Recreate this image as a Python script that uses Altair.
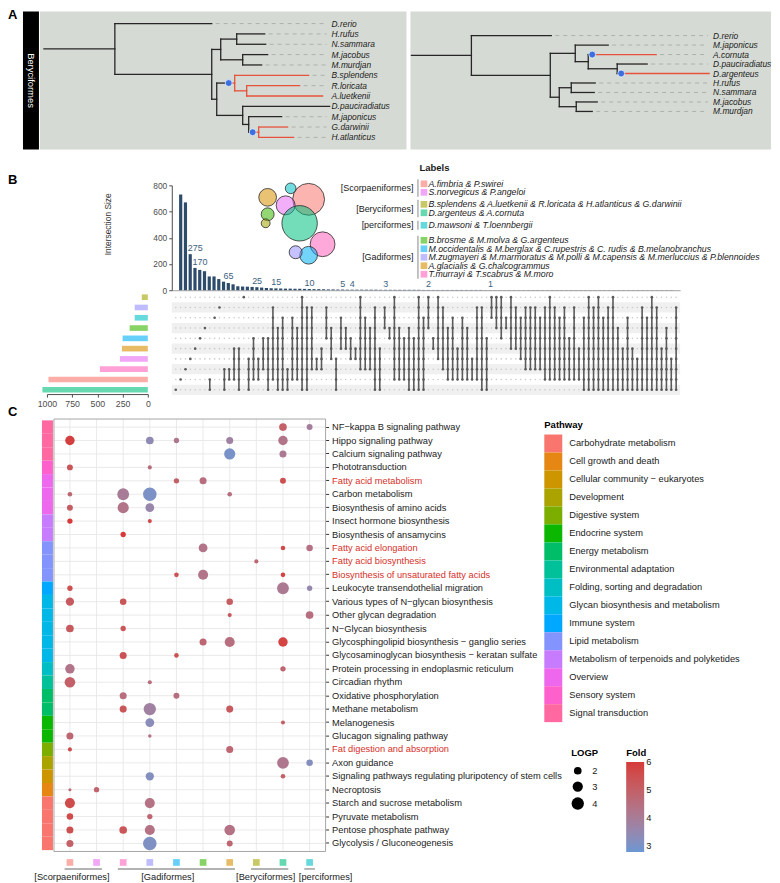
import altair as alt
import pandas as pd

FONT = "Liberation Sans"
INK = "#1A1A1A"
AXIS_GREY = "#4D4D4D"
TREE_BLACK = "#262626"
TREE_RED = "#E5533D"
NODE_BLUE = "#3D6FE0"
PANEL_GREY = "#D6DAD4"
NAVY = "#2D4B6B"
LABEL_RED = "#D7302A"

# ======================= DATA =======================
# ---- Panel A: two trees (node depth in branch-length units, tips listed top -> bottom)
LEFT_TIPS = ["D.rerio", "H.rufus", "N.sammara", "M.jacobus", "M.murdjan", "B.splendens",
             "R.loricata", "A.luetkenii", "D.pauciradiatus", "M.japonicus", "G.darwinii", "H.atlanticus"]
LEFT_NODES = [("root", None, 4), ("n0", "root", 75), ("D.rerio", "n0", 172), ("n1", "n0", 172),
              ("n2", "n1", 181), ("n4", "n2", 197), ("H.rufus", "n4", 225), ("N.sammara", "n4", 226),
              ("n5", "n2", 203), ("M.jacobus", "n5", 228), ("M.murdjan", "n5", 222),
              ("n3", "n1", 177), ("n6", "n3", 195), ("B.splendens", "n6", 269), ("n8", "n6", 207),
              ("R.loricata", "n8", 260), ("A.luetkenii", "n8", 283),
              ("n7", "n3", 203), ("D.pauciradiatus", "n7", 290), ("n9", "n7", 209),
              ("M.japonicus", "n9", 242), ("n10", "n9", 219), ("G.darwinii", "n10", 248),
              ("H.atlanticus", "n10", 254)]
LEFT_RED_CLADES = ["n6", "n10"]
LEFT_EVENTS = {"n6": 189, "n10": 213}

RIGHT_TIPS = ["D.rerio", "M.japonicus", "A.cornuta", "D.pauciradiatus", "D.argenteus",
              "H.rufus", "N.sammara", "M.jacobus", "M.murdjan"]
RIGHT_NODES = [("root", None, 1), ("n0", "root", 61), ("D.rerio", "n0", 141), ("n1", "n0", 140),
               ("n2", "n1", 165), ("M.japonicus", "n2", 198), ("n4", "n2", 178), ("A.cornuta", "n4", 246),
               ("n5", "n4", 207), ("D.pauciradiatus", "n5", 237), ("D.argenteus", "n5", 299),
               ("n3", "n1", 149), ("n6", "n3", 161), ("H.rufus", "n6", 185), ("N.sammara", "n6", 184),
               ("n7", "n3", 166), ("M.jacobus", "n7", 187), ("M.murdjan", "n7", 182)]
RIGHT_RED_CLADES = ["A.cornuta", "D.argenteus"]
RIGHT_EVENTS = {"A.cornuta": 182, "D.argenteus": 211}

# ---- Panel B: sets
SETS = ["A.fimbria & P.swirei", "S.norvegicus & P.angeloi",
        "B.splendens & A.luetkenii & R.loricata & H.atlanticus & G.darwinii", "D.argenteus & A.cornuta",
        "D.mawsoni & T.loennbergii",
        "B.brosme & M.molva & G.argenteus",
        "M.occidentalis & M.berglax & C.rupestris & C. rudis & B.melanobranchus",
        "M.zugmayeri & M.marmoratus & M.polli & M.capensis & M.merluccius & P.blennoides",
        "A.glacialis & G.chalcogrammus", "T.murrayi & T.scabrus & M.moro"]
SET_GROUP = ["[Scorpaeniformes]"] * 2 + ["[Beryciformes]"] * 2 + ["[perciformes]"] + ["[Gadiformes]"] * 5
SET_COLOR = ["#FBADA7", "#F1A6F8", "#C8C966", "#66D9B1", "#66D9DC",
             "#88D366", "#66D0FA", "#BFBCFF", "#E8BC66", "#FFA1D7"]
SET_HUE = ["#F8766D", "#E76BF3", "#A3A500", "#00BF7D", "#00BFC4",
           "#39B600", "#00B0F6", "#9590FF", "#D89000", "#FF62BC"]

# UpSet rows (top -> bottom, index into SETS) and set sizes
MATRIX_SETS = [2, 7, 4, 5, 6, 8, 1, 9, 0, 3]
SET_SIZE = [60, 130, 130, 180, 250, 257, 277, 475, 985, 1045]

# intersection sizes, in plotted order
INTERSECTION_SIZE = ([730, 670, 275, 170, 155, 145, 105, 105, 85, 65, 55, 45, 30, 28, 27, 25, 23, 20, 17, 15,
                      14, 13, 12, 12, 11, 11, 10, 9, 8, 8, 7, 6, 6, 5, 5, 4, 4, 4, 4, 4, 4, 4]
                     + [3] * 9 + [2] * 13 + [1] * 40)
LABELLED_BARS = [3, 4, 10, 16, 20, 27, 34, 36, 43, 52, 65]
# membership span (first row, last row) of every intersection column
MATRIX = [(9, 9), (8, 8), (7, 7), (6, 6), (5, 5), (4, 4), (3, 3), (8, 9), (2, 2), (1, 1),
          (7, 9), (7, 8), (5, 8), (5, 9), (0, 0), (6, 9), (4, 8), (6, 8), (4, 7), (4, 9),
          (1, 8), (3, 9), (2, 9), (7, 9), (2, 8), (3, 8), (0, 9), (1, 9), (1, 7), (6, 7),
          (5, 7), (1, 4), (3, 6), (6, 9), (2, 5), (3, 5), (4, 6), (5, 6), (0, 7), (2, 7),
          (3, 7), (1, 9), (5, 9), (1, 3), (3, 4), (0, 8), (3, 8), (4, 8), (3, 9), (4, 9),
          (0, 9), (2, 9), (0, 3), (4, 5), (0, 6), (1, 7), (3, 8), (2, 8), (5, 8), (2, 8),
          (3, 8), (6, 8), (1, 8), (1, 9), (4, 9), (0, 2), (0, 3), (0, 4), (2, 3), (0, 5),
          (1, 5), (2, 6), (1, 7), (1, 7), (1, 7), (2, 7), (1, 8), (0, 8), (1, 8), (2, 8),
          (1, 8), (4, 8), (1, 8), (5, 8), (2, 9), (0, 9), (1, 9), (0, 9), (2, 9), (1, 9),
          (0, 9), (3, 9), (5, 9), (2, 9), (5, 9), (6, 9), (1, 9), (2, 9), (0, 9), (1, 9),
          (5, 9), (3, 9), (6, 9), (1, 9)]

# Euler diagram: set index, centre x, centre y, radius (diagram units)
VENN = [(0, 54, 23, 18), (1, 31, 29, 10.7), (4, 36, 12, 6), (8, 13, 21, 10), (5, 13, 38, 7.3),
        (2, 11, 47, 5), (3, 45, 47, 20), (9, 68, 68, 14), (6, 54, 79, 10), (7, 41, 76, 7.3)]

# ---- Panel C: KEGG enrichment
PATHWAYS = ["NF\u2212kappa B signaling pathway", "Hippo signaling pathway", "Calcium signaling pathway",
            "Phototransduction", "Fatty acid metabolism", "Carbon metabolism",
            "Biosynthesis of amino acids", "Insect hormone biosynthesis", "Biosynthesis of ansamycins",
            "Fatty acid elongation", "Fatty acid biosynthesis", "Biosynthesis of unsaturated fatty acids",
            "Leukocyte transendothelial migration", "Various types of N\u2212glycan biosynthesis",
            "Other glycan degradation", "N\u2212Glycan biosynthesis",
            "Glycosphingolipid biosynthesis \u2212 ganglio series",
            "Glycosaminoglycan biosynthesis \u2212 keratan sulfate",
            "Protein processing in endoplasmic reticulum", "Circadian rhythm", "Oxidative phosphorylation",
            "Methane metabolism", "Melanogenesis", "Glucagon signaling pathway", "Fat digestion and absorption",
            "Axon guidance", "Signaling pathways regulating pluripotency of stem cells", "Necroptosis",
            "Starch and sucrose metabolism", "Pyruvate metabolism", "Pentose phosphate pathway",
            "Glycolysis / Gluconeogenesis"]
HIGHLIGHTED = ["Fatty acid metabolism", "Fatty acid elongation", "Fatty acid biosynthesis",
               "Biosynthesis of unsaturated fatty acids", "Fat digestion and absorption"]
CATEGORIES = ["Carbohydrate metabolism", "Cell growth and death", "Cellular community \u2212 eukaryotes",
              "Development", "Digestive system", "Endocrine system", "Energy metabolism",
              "Environmental adaptation", "Folding, sorting and degradation",
              "Glycan biosynthesis and metabolism", "Immune system", "Lipid metabolism",
              "Metabolism of terpenoids and polyketides", "Overview", "Sensory system", "Signal transduction"]
CATEGORY_COLORS = ["#F8766D", "#E68613", "#CD9600", "#ABA300", "#7CAE00", "#0CB702", "#00BE67", "#00C19A",
                   "#00BFC4", "#00B8E7", "#00A9FF", "#8494FF", "#C77CFF", "#ED68ED", "#FF61CC", "#FF68A1"]
PATHWAY_CATEGORY = ([15] * 3 + [14] + [13] * 3 + [12] * 2 + [11] * 3 + [10] + [9] * 5 + [8] + [7]
                    + [6] * 2 + [5] * 2 + [4] + [3] + [2] + [1] + [0] * 4)
DOT_COLUMNS = [0, 1, 9, 7, 6, 5, 8, 2, 3, 4]          # set shown in each column
DOT_GROUPS = [("[Scorpaeniformes]", 1, 2), ("[Gadiformes]", 3, 7), ("[Beryciformes]", 8, 9),
              ("[perciformes]", 10, 10)]
# (pathway number, column, LOGP, Fold)
DOTS = [(1, 9, 2.0, 5.0), (1, 10, 1.5, 3.9),
        (2, 1, 2.65, 5.9), (2, 4, 2.0, 3.4), (2, 5, 1.35, 4.2), (2, 7, 1.8, 3.8), (2, 9, 2.65, 4.3),
        (3, 7, 3.4, 3.0), (3, 9, 1.8, 4.1),
        (4, 1, 1.5, 5.3), (4, 4, 1.1, 4.6),
        (5, 5, 1.35, 5.0), (5, 6, 1.8, 4.5), (5, 9, 1.5, 5.5),
        (6, 1, 1.2, 4.8), (6, 3, 3.7, 4.0), (6, 4, 4.65, 3.05), (6, 7, 1.2, 4.5),
        (7, 1, 1.5, 5.1), (7, 3, 3.4, 4.3), (7, 4, 2.4, 3.6),
        (8, 1, 1.35, 6.0), (8, 4, 1.1, 5.6),
        (9, 3, 1.35, 6.0),
        (10, 6, 2.4, 4.3), (10, 9, 1.2, 5.6), (10, 10, 1.65, 4.4),
        (11, 8, 1.1, 4.8),
        (12, 5, 1.2, 5.4), (12, 6, 2.9, 4.3), (12, 9, 1.2, 5.8),
        (13, 1, 1.35, 5.5), (13, 9, 3.7, 4.1), (13, 10, 1.35, 3.5),
        (14, 1, 2.2, 5.2), (14, 3, 1.65, 5.3), (14, 7, 1.65, 5.1),
        (15, 7, 1.1, 5.2), (15, 10, 2.0, 4.5),
        (16, 1, 2.0, 5.2), (16, 3, 1.35, 5.3),
        (17, 6, 1.8, 4.8), (17, 7, 2.9, 4.5), (17, 9, 2.65, 5.8),
        (18, 3, 1.8, 5.4), (18, 5, 1.2, 5.4),
        (19, 1, 2.65, 4.3), (19, 9, 1.35, 4.8),
        (20, 1, 3.15, 5.0), (20, 4, 1.1, 4.6),
        (21, 3, 1.8, 4.5), (21, 5, 1.5, 4.5),
        (22, 3, 1.8, 5.3), (22, 4, 4.0, 3.8), (22, 7, 1.8, 5.2),
        (23, 4, 2.4, 3.3), (23, 9, 1.1, 5.0),
        (24, 1, 1.8, 4.8), (24, 4, 1.0, 4.4),
        (25, 1, 1.1, 5.6), (25, 7, 1.8, 4.8),
        (26, 9, 3.7, 4.2), (26, 10, 1.65, 3.2),
        (27, 4, 2.2, 3.2), (27, 9, 1.2, 5.0),
        (28, 1, 0.95, 4.6), (28, 2, 1.35, 4.9),
        (29, 1, 2.9, 5.6), (29, 4, 2.9, 4.4),
        (30, 1, 1.65, 5.6), (30, 4, 1.35, 4.8),
        (31, 1, 1.8, 5.5), (31, 3, 2.0, 5.3), (31, 4, 2.9, 4.4), (31, 7, 3.15, 4.4),
        (32, 1, 1.8, 5.0), (32, 4, 4.65, 3.1), (32, 7, 1.5, 4.8)]


# ======================= LAYOUT =======================
def c(v):
    """page pixel -> chart pixel (8px page margin)"""
    return v - 8


ONE = pd.DataFrame({"k": [0]})


def px_text(df, **kw):
    return alt.Chart(df).mark_text(**kw).encode(
        x=alt.X("x:Q", scale=None, axis=None), y=alt.Y("y:Q", scale=None, axis=None), text="t:N")


def tree_panel(nodes, tips, red, events, left, right, ydom, label_at):
    depth = {n: d for n, p, d in nodes}
    parent = {n: p for n, p, d in nodes}
    kids = {}
    for n, p, d in nodes:
        if p is not None:
            kids.setdefault(p, []).append(n)
    ypos = {}

    def gy(n):
        if n not in ypos:
            if n in kids:
                ys = [gy(k) for k in kids[n]]
                ypos[n] = (min(ys) + max(ys)) / 2
            else:
                ypos[n] = tips.index(n)
        return ypos[n]

    for n in depth:
        gy(n)

    def is_red(n):
        while n is not None:
            if n in red:
                return True
            n = parent[n]
        return False

    segs = []
    for n, p, d in nodes:
        if p is None:
            continue
        if n in events:
            segs.append(dict(x=depth[p], x2=events[n], y=ypos[n], y2=ypos[n], col=TREE_BLACK))
            segs.append(dict(x=events[n], x2=d, y=ypos[n], y2=ypos[n], col=TREE_RED))
        else:
            segs.append(dict(x=depth[p], x2=d, y=ypos[n], y2=ypos[n],
                             col=TREE_RED if is_red(p) else TREE_BLACK))
    for n, ks in kids.items():
        if len(ks) > 1:
            ys = [ypos[k] for k in ks]
            segs.append(dict(x=depth[n], x2=depth[n], y=min(ys), y2=max(ys),
                             col=TREE_RED if is_red(n) else TREE_BLACK))
    seg_df = pd.DataFrame(segs)
    xs = alt.Scale(domain=[0, right - left], range=[c(left), c(right)])
    ys_ = alt.Scale(domain=ydom, range=[c(10), c(148)])

    tip_df = pd.DataFrame({"tip": tips, "y": list(range(len(tips))),
                           "x": [depth[t] + 4 for t in tips], "x2": [label_at - 5] * len(tips),
                           "lx": [label_at] * len(tips)})
    lead_df = tip_df[tip_df["x2"] > tip_df["x"] + 2]
    ev_df = pd.DataFrame({"x": list(events.values()), "y": [ypos[n] for n in events]})

    bg = alt.Chart(ONE).mark_rect(color=PANEL_GREY).encode(
        x=alt.value(c(left)), x2=alt.value(c(right)), y=alt.value(c(10)), y2=alt.value(c(148)))
    leaders = alt.Chart(lead_df).mark_rule(strokeDash=[4, 4], color="#A3A7A1", strokeWidth=0.8).encode(
        x=alt.X("x:Q", scale=xs, axis=None), x2="x2:Q", y=alt.Y("y:Q", scale=ys_, axis=None))
    edges = alt.Chart(seg_df).mark_rule(strokeWidth=1.3, strokeCap="square").encode(
        x=alt.X("x:Q", scale=xs, axis=None), x2="x2:Q",
        y=alt.Y("y:Q", scale=ys_, axis=None), y2="y2:Q",
        color=alt.Color("col:N", scale=None))
    marks = alt.Chart(ev_df).mark_circle(size=48, color=NODE_BLUE, opacity=1, stroke="white",
                                         strokeWidth=0.7).encode(
        x=alt.X("x:Q", scale=xs, axis=None), y=alt.Y("y:Q", scale=ys_, axis=None))
    labels = alt.Chart(tip_df).mark_text(align="left", baseline="middle", fontStyle="italic",
                                         fontSize=8.4, color=INK, font=FONT).encode(
        x=alt.X("lx:Q", scale=xs, axis=None), y=alt.Y("y:Q", scale=ys_, axis=None), text="tip:N")
    return alt.layer(bg, leaders, edges, marks, labels)


# ---- Panel letters and free text
letters = px_text(pd.DataFrame({"t": ["A", "B", "C"], "x": [0, 0, 0], "y": [c(13), c(179), c(411)]}),
                  align="left", baseline="middle", fontWeight="bold", fontSize=13, color="black", font=FONT)
strip_bg = alt.Chart(ONE).mark_rect(color="black").encode(
    x=alt.value(c(23)), x2=alt.value(c(39)), y=alt.value(c(10)), y2=alt.value(c(148)))
strip_txt = px_text(pd.DataFrame({"t": ["Beryciformes"], "x": [c(31)], "y": [c(79)]}),
                    angle=90, color="white", fontSize=9.4, font=FONT)
inter_title = px_text(pd.DataFrame({"t": ["Intersection Size"], "x": [c(108)], "y": [c(223)]}),
                      angle=270, color="#333333", fontSize=8.4, font=FONT)

tree_left = tree_panel(LEFT_NODES, LEFT_TIPS, LEFT_RED_CLADES, LEFT_EVENTS, 40, 407, [-1.16, 12.16], 292)
tree_right = tree_panel(RIGHT_NODES, RIGHT_TIPS, RIGHT_RED_CLADES, RIGHT_EVENTS, 411, 772, [-2.53, 12], 303)

# ---- Panel B: intersection bars
inter_x = alt.Scale(domain=[0.18, 104.82], range=[c(172), c(681)])
inter_y = alt.Scale(domain=[0, 800], range=[c(289), c(184)])
inter_x_axis = alt.Axis(orient="bottom", offset=c(289) - 867, labels=False, ticks=False, grid=False,
                        title=None, domainColor="#8C8C8C", domainWidth=0.8)
inter_y_axis = alt.Axis(orient="left", offset=-c(172), values=[0, 200, 400, 600, 800], grid=False,
                        title=None, labelFontSize=8.4, labelColor=AXIS_GREY, tickColor=AXIS_GREY,
                        tickSize=3, domainColor=AXIS_GREY, labelPadding=2, labelFlush=False,
                        labelFont=FONT)
bar_df = pd.DataFrame({"i": list(range(1, len(INTERSECTION_SIZE) + 1)), "v": INTERSECTION_SIZE})
bars = alt.Chart(bar_df).mark_bar(size=3.2, color=NAVY, orient="vertical").encode(
    x=alt.X("i:Q", scale=inter_x, axis=inter_x_axis),
    y=alt.Y("v:Q", scale=inter_y, axis=inter_y_axis))
lab_df = bar_df[bar_df["i"].isin(LABELLED_BARS)]
bar_labels = alt.Chart(lab_df).mark_text(dx=5, dy=-6, fontSize=9, color="#3E5F80", font=FONT).encode(
    x=alt.X("i:Q", scale=inter_x, axis=inter_x_axis), y=alt.Y("v:Q", scale=inter_y, axis=inter_y_axis),
    text="v:Q")
inter_chart = alt.layer(bars, bar_labels)

# ---- Panel B: matrix
mrow = alt.Scale(domain=[-0.5, 9.5], range=[c(290.85), c(393.85)])
band_df = pd.DataFrame({"y0": [r - 0.5 for r in (1, 3, 5, 7, 9)], "y1": [r + 0.5 for r in (1, 3, 5, 7, 9)]})
bands = alt.Chart(band_df).mark_rect(color="#F0F0F0").encode(
    x=alt.value(c(172)), x2=alt.value(c(681)),
    y=alt.Y("y0:Q", scale=mrow, axis=None), y2="y1:Q")
grid_df = pd.DataFrame([{"i": i + 1, "r": r} for i in range(len(MATRIX)) for r in range(10)])
bg_dots = alt.Chart(grid_df).mark_circle(size=2.5, color="#C9C9C9", opacity=1).encode(
    x=alt.X("i:Q", scale=inter_x, axis=None), y=alt.Y("r:Q", scale=mrow, axis=None))
span_df = pd.DataFrame([{"i": i + 1, "a": a, "b": b} for i, (a, b) in enumerate(MATRIX) if b > a])
spans = alt.Chart(span_df).mark_rule(color="#5A5A5A", strokeWidth=1.6).encode(
    x=alt.X("i:Q", scale=inter_x, axis=None), y=alt.Y("a:Q", scale=mrow, axis=None), y2="b:Q")
mem_df = pd.DataFrame([{"i": i + 1, "r": r} for i, (a, b) in enumerate(MATRIX) for r in range(a, b + 1)])
members = alt.Chart(mem_df).mark_circle(size=7, color="#5A5A5A", opacity=1).encode(
    x=alt.X("i:Q", scale=inter_x, axis=None), y=alt.Y("r:Q", scale=mrow, axis=None))
matrix_chart = alt.layer(bands, bg_dots, spans, members)

# ---- Panel B: set sizes
ss_df = pd.DataFrame({"row": list(range(10)), "size": SET_SIZE,
                      "col": [SET_COLOR[s] for s in MATRIX_SETS]})
setsize = alt.Chart(ss_df).mark_bar(orient="horizontal").encode(
    x=alt.X("size:Q", scale=alt.Scale(domain=[0, 1000], range=[c(148), c(47)]),
            axis=alt.Axis(orient="bottom", offset=c(393) - 867, values=[0, 250, 500, 750, 1000],
                          format="d", grid=False, title=None, labelFontSize=8.8, labelColor=AXIS_GREY,
                          tickColor=AXIS_GREY, tickSize=3, domainColor=AXIS_GREY, labelFlush=False,
                          labelPadding=2, labelFont=FONT)),
    y=alt.Y("row:O", scale=alt.Scale(domain=list(range(10)), range=[c(290.85), c(393.85)],
                                     paddingInner=0.45, paddingOuter=0.225), axis=None),
    color=alt.Color("col:N", scale=None))

# ---- Panel B: Euler diagram
venn_df = pd.DataFrame({"x": [v[1] for v in VENN], "y": [v[2] for v in VENN],
                        "area": [3.14159 * v[3] ** 2 for v in VENN],
                        "col": [SET_HUE[v[0]] for v in VENN]})
venn = alt.Chart(venn_df).mark_circle(opacity=1, fillOpacity=0.55, stroke="#2B2B2B", strokeWidth=0.8).encode(
    x=alt.X("x:Q", scale=alt.Scale(domain=[0, 100], range=[c(255), c(355)]), axis=None),
    y=alt.Y("y:Q", scale=alt.Scale(domain=[0, 100], range=[c(175), c(275)]), axis=None),
    size=alt.Size("area:Q", scale=None),
    fill=alt.Fill("col:N", scale=None))

# ---- Panel B: labels legend
LEG_Y = [182.5, 191, 203, 211.5, 224, 239, 247.5, 256, 264.5, 273]
leg_df = pd.DataFrame({"t": SETS, "clr": SET_COLOR, "y": [c(v) for v in LEG_Y],
                       "sx": [c(424.5)] * 10, "x": [c(429)] * 10})
leg_sw = alt.Chart(leg_df).mark_square(size=45, opacity=1).encode(
    x=alt.X("sx:Q", scale=None, axis=None), y=alt.Y("y:Q", scale=None, axis=None),
    color=alt.Color("clr:N", scale=None))
leg_tx = px_text(leg_df, align="left", baseline="middle", fontStyle="italic", fontSize=8.8, color=INK,
                 font=FONT)
grp_rows = {}
for k, g in enumerate(SET_GROUP):
    grp_rows.setdefault(g, []).append(k)
grp_df = pd.DataFrame({"t": list(grp_rows.keys()),
                       "y": [c((LEG_Y[r[0]] + LEG_Y[r[-1]]) / 2) for r in grp_rows.values()],
                       "y0": [c(LEG_Y[r[0]] - 4.5) for r in grp_rows.values()],
                       "y1": [c(LEG_Y[r[-1]] + 4.5) for r in grp_rows.values()],
                       "x": [c(414)] * len(grp_rows), "bx": [c(418.5)] * len(grp_rows)})
grp_tx = px_text(grp_df, align="right", baseline="middle", fontSize=9, color=INK, font=FONT)
grp_br = alt.Chart(grp_df).mark_rule(color="#8A8A8A", strokeWidth=1).encode(
    x=alt.X("bx:Q", scale=None, axis=None), y=alt.Y("y0:Q", scale=None, axis=None),
    y2="y1:Q")
leg_title = px_text(pd.DataFrame({"t": ["Labels"], "x": [c(420)], "y": [c(167)]}),
                    align="left", baseline="middle", fontWeight="bold", fontSize=9.5, color=INK, font=FONT)

# ---- Panel C: dot plot
dot_x = alt.Scale(domain=list(range(1, 11)), range=[c(54), c(326)], paddingInner=0, paddingOuter=0.1)
dot_y = alt.Scale(domain=PATHWAYS, range=[c(418), c(851)], paddingInner=0, paddingOuter=0.1)
hl = ", ".join("'" + h + "'" for h in HIGHLIGHTED)
dot_y_axis = alt.Axis(orient="right", offset=c(326) - 764, title=None, grid=False, domain=False,
                      tickSize=3, tickColor="#333333", labelFontSize=9.3, labelPadding=3,
                      labelFont=FONT, labelLimit=400,
                      labelColor={"condition": {"test": "indexof([" + hl + "], datum.value) >= 0",
                                                "value": LABEL_RED}, "value": INK})
strip_df = pd.DataFrame({"pathway": PATHWAYS, "cat": [CATEGORIES[k] for k in PATHWAY_CATEGORY]})
path_strip = alt.Chart(strip_df).mark_rect().encode(
    x=alt.value(c(42)), x2=alt.value(c(53)),
    y=alt.Y("pathway:N", scale=dot_y, axis=dot_y_axis),
    fill=alt.Fill("cat:N", scale=alt.Scale(domain=CATEGORIES, range=CATEGORY_COLORS),
                  legend=alt.Legend(title="Pathway", orient="none", legendX=c(545), legendY=c(419),
                                    symbolType="square", symbolSize=324, symbolStrokeWidth=0,
                                    rowPadding=0, labelFontSize=9.3, titleFontSize=9.5, labelOffset=7,
                                    titlePadding=5, labelColor=INK, labelFont=FONT, titleFont=FONT,
                                    labelLimit=400)))
grid_v = alt.Chart(pd.DataFrame({"col": list(range(1, 11))})).mark_rule(color="#E4E4E4", strokeWidth=0.8).encode(
    x=alt.X("col:O", scale=dot_x, axis=None), y=alt.value(c(418)), y2=alt.value(c(851)))
grid_h = alt.Chart(pd.DataFrame({"pathway": PATHWAYS})).mark_rule(color="#E4E4E4", strokeWidth=0.8).encode(
    y=alt.Y("pathway:N", scale=dot_y, axis=dot_y_axis), x=alt.value(c(54)), x2=alt.value(c(326)))
frame = alt.Chart(ONE).mark_rect(fillOpacity=0, stroke="#A6A6A6", strokeWidth=1).encode(
    x=alt.value(c(54)), x2=alt.value(c(326)), y=alt.value(c(418)), y2=alt.value(c(851)))
dot_df = pd.DataFrame({"pathway": [PATHWAYS[d[0] - 1] for d in DOTS], "col": [d[1] for d in DOTS],
                       "logp": [d[2] for d in DOTS], "fold": [d[3] for d in DOTS]})
dots = alt.Chart(dot_df).mark_circle(opacity=1).encode(
    x=alt.X("col:O", scale=dot_x, axis=None),
    y=alt.Y("pathway:N", scale=dot_y, axis=dot_y_axis),
    size=alt.Size("logp:Q", scale=alt.Scale(domain=[1, 5], range=[12, 200]),
                  legend=alt.Legend(title="LOGP", orient="none", legendX=c(572), legendY=c(747),
                                    values=[2, 3, 4], symbolFillColor="black", symbolStrokeColor="black",
                                    symbolStrokeWidth=0, symbolType="circle", symbolOpacity=1,
                                    labelFontSize=9.3, titleFontSize=9.5, rowPadding=5, titlePadding=9,
                                    labelOffset=8, labelFont=FONT, titleFont=FONT, labelColor=INK)),
    color=alt.Color("fold:Q", scale=alt.Scale(domain=[2.79, 6.01], range=["#6A98D3", "#D63A3A"],
                                              interpolate="lab"),
                    legend=alt.Legend(title="Fold", orient="none", legendX=c(627), legendY=c(747),
                                      values=[3, 4, 5, 6], gradientLength=90, gradientThickness=18,
                                      direction="vertical", labelFontSize=9.3, titleFontSize=9.5,
                                      gradientStrokeWidth=0, labelFont=FONT, titleFont=FONT,
                                      labelColor=INK)))
dot_chart = alt.layer(grid_v, grid_h, path_strip, dots, frame)

# ---- Panel C: column key under the dot plot
ann_x = alt.Scale(domain=[0.4, 10.6], range=[c(54), c(326)])
key_df = pd.DataFrame({"col": list(range(1, 11)), "clr": [SET_COLOR[s] for s in DOT_COLUMNS]})
key_sq = alt.Chart(key_df).mark_square(size=45, opacity=1).encode(
    x=alt.X("col:Q", scale=ann_x, axis=None), y=alt.value(c(862)), color=alt.Color("clr:N", scale=None))
gl_df = pd.DataFrame({"a": [g[1] - 0.2 for g in DOT_GROUPS], "b": [g[2] + 0.2 for g in DOT_GROUPS]})
key_lines = alt.Chart(gl_df).mark_rule(color="#9A9A9A", strokeWidth=1.4).encode(
    x=alt.X("a:Q", scale=ann_x, axis=None), x2="b:Q", y=alt.value(c(868.5)))
key_label_x = [72, 168, 266, 326]
kl_df = pd.DataFrame({"t": [g[0] for g in DOT_GROUPS], "x": [c(v) for v in key_label_x],
                      "y": [c(877)] * len(DOT_GROUPS)})
key_labels = px_text(kl_df, baseline="middle", fontSize=9.3, color=INK, font=FONT)
key_chart = alt.layer(key_sq, key_lines, key_labels)

chart = alt.layer(
    tree_left, tree_right, strip_bg, strip_txt, letters,
    inter_chart, matrix_chart, setsize, inter_title, venn,
    leg_sw, leg_tx, grp_tx, grp_br, leg_title,
    dot_chart, key_chart,
).resolve_scale(
    x="independent", y="independent", color="independent", fill="independent", size="independent"
).properties(width=764, height=867, padding=0)

chart = chart.configure(font=FONT).configure_view(strokeWidth=0)
chart.save("out.html", embed_options={"renderer": "svg", "actions": False})
